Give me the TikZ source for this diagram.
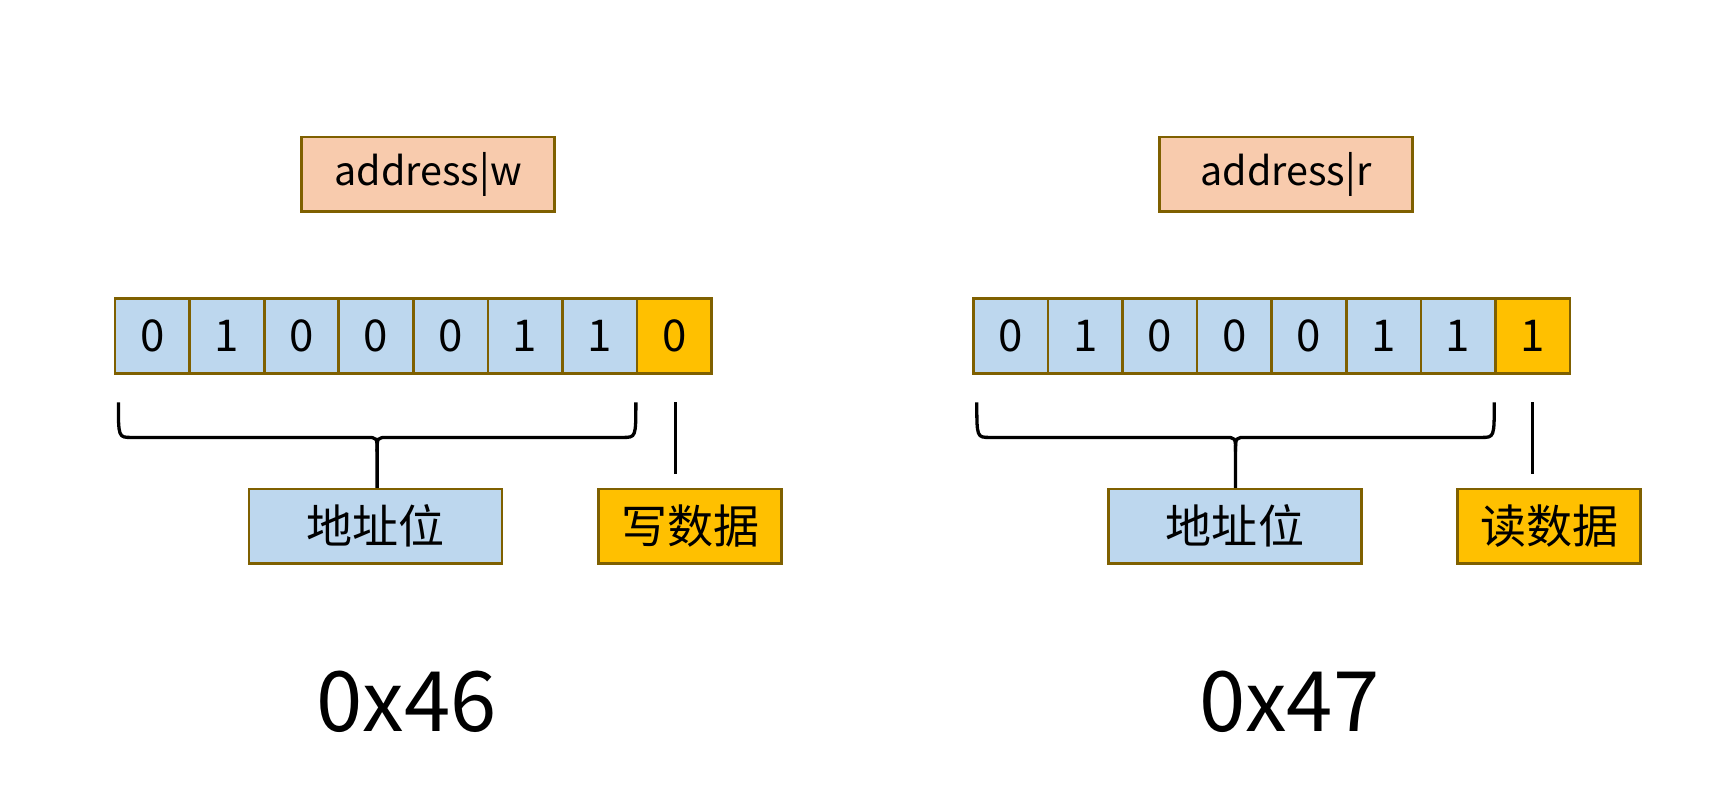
\documentclass[tikz,border=0pt]{standalone}
\usepackage{fontspec}
\setmainfont{Noto Sans CJK SC}
\begin{document}
\begin{tikzpicture}[x=0.5pt,y=-0.5pt,
  box/.style={draw=bord,line width=1.2pt,minimum height=34pt,inner sep=0pt},
  cell/.style={box,fill=cblue,minimum width=34pt,font=\fontsize{20}{20}\selectfont},
  ocell/.style={cell,fill=corange},
  brace/.style={line width=1.5pt,black},
  big/.style={font=\fontsize{38}{38}\selectfont}]
\definecolor{bord}{HTML}{7F6000}
\definecolor{cblue}{HTML}{BDD7EE}
\definecolor{corange}{HTML}{FFC000}
\definecolor{cpeach}{HTML}{F8CBAD}
\useasboundingbox (0,0) rectangle (1568,738);
% left
\node[box,fill=cpeach,minimum width=115.5pt,font=\fontsize{18}{18}\selectfont] (aw) at (390.5,159) {address|w};
\foreach \v [count=\i] in {0,1,0,0,0,1,1} \node[cell] (l\i) at (105+68*\i-34,306.5) {\v};
\node[ocell] (l8) at (615,306.5) {0};
\draw[brace] (108,367) .. controls (108,399) and (108,399) .. (120,399) -- (334,399) .. controls (344,399) .. (344,412) -- (344,445);
\draw[brace] (580,367) .. controls (580,399) and (580,399) .. (568,399) -- (354,399) .. controls (344,399) .. (344,412);
\coordinate (lt) at (616,367);
\node[box,fill=cblue,minimum width=115.5pt,font=\fontsize{21}{21}\selectfont] (ladr) at (342.5,480) {地址位};
\node[box,fill=corange,minimum width=83.5pt,font=\fontsize{21}{21}\selectfont] (ldat) at (629.5,480) {写数据};
\draw[line width=1.2pt] (lt) -- ++(0,65);
\node[big] (h46) at (371,640) {0x46};
% right
\node[box,fill=cpeach,minimum width=115.5pt,font=\fontsize{18}{18}\selectfont] (ar) at (1173,159) {address|r};
\foreach \v [count=\i] in {0,1,0,0,0,1,1} \node[cell] (r\i) at (888+68*\i-34,306.5) {\v};
\node[ocell] (r8) at (1398,306.5) {1};
\draw[brace] (891,367) .. controls (891,399) and (891,399) .. (903,399) -- (1117,399) .. controls (1127,399) .. (1127,412) -- (1127,445);
\draw[brace] (1363,367) .. controls (1363,399) and (1363,399) .. (1351,399) -- (1137,399) .. controls (1127,399) .. (1127,412);
\coordinate (rt) at (1398,367);
\node[box,fill=cblue,minimum width=115.5pt,font=\fontsize{21}{21}\selectfont] (radr) at (1126.5,480) {地址位};
\node[box,fill=corange,minimum width=83.5pt,font=\fontsize{21}{21}\selectfont] (rdat) at (1413,480) {读数据};
\draw[line width=1.2pt] (rt) -- ++(0,65);
\node[big] (h47) at (1176,640) {0x47};
\end{tikzpicture}
\end{document}
